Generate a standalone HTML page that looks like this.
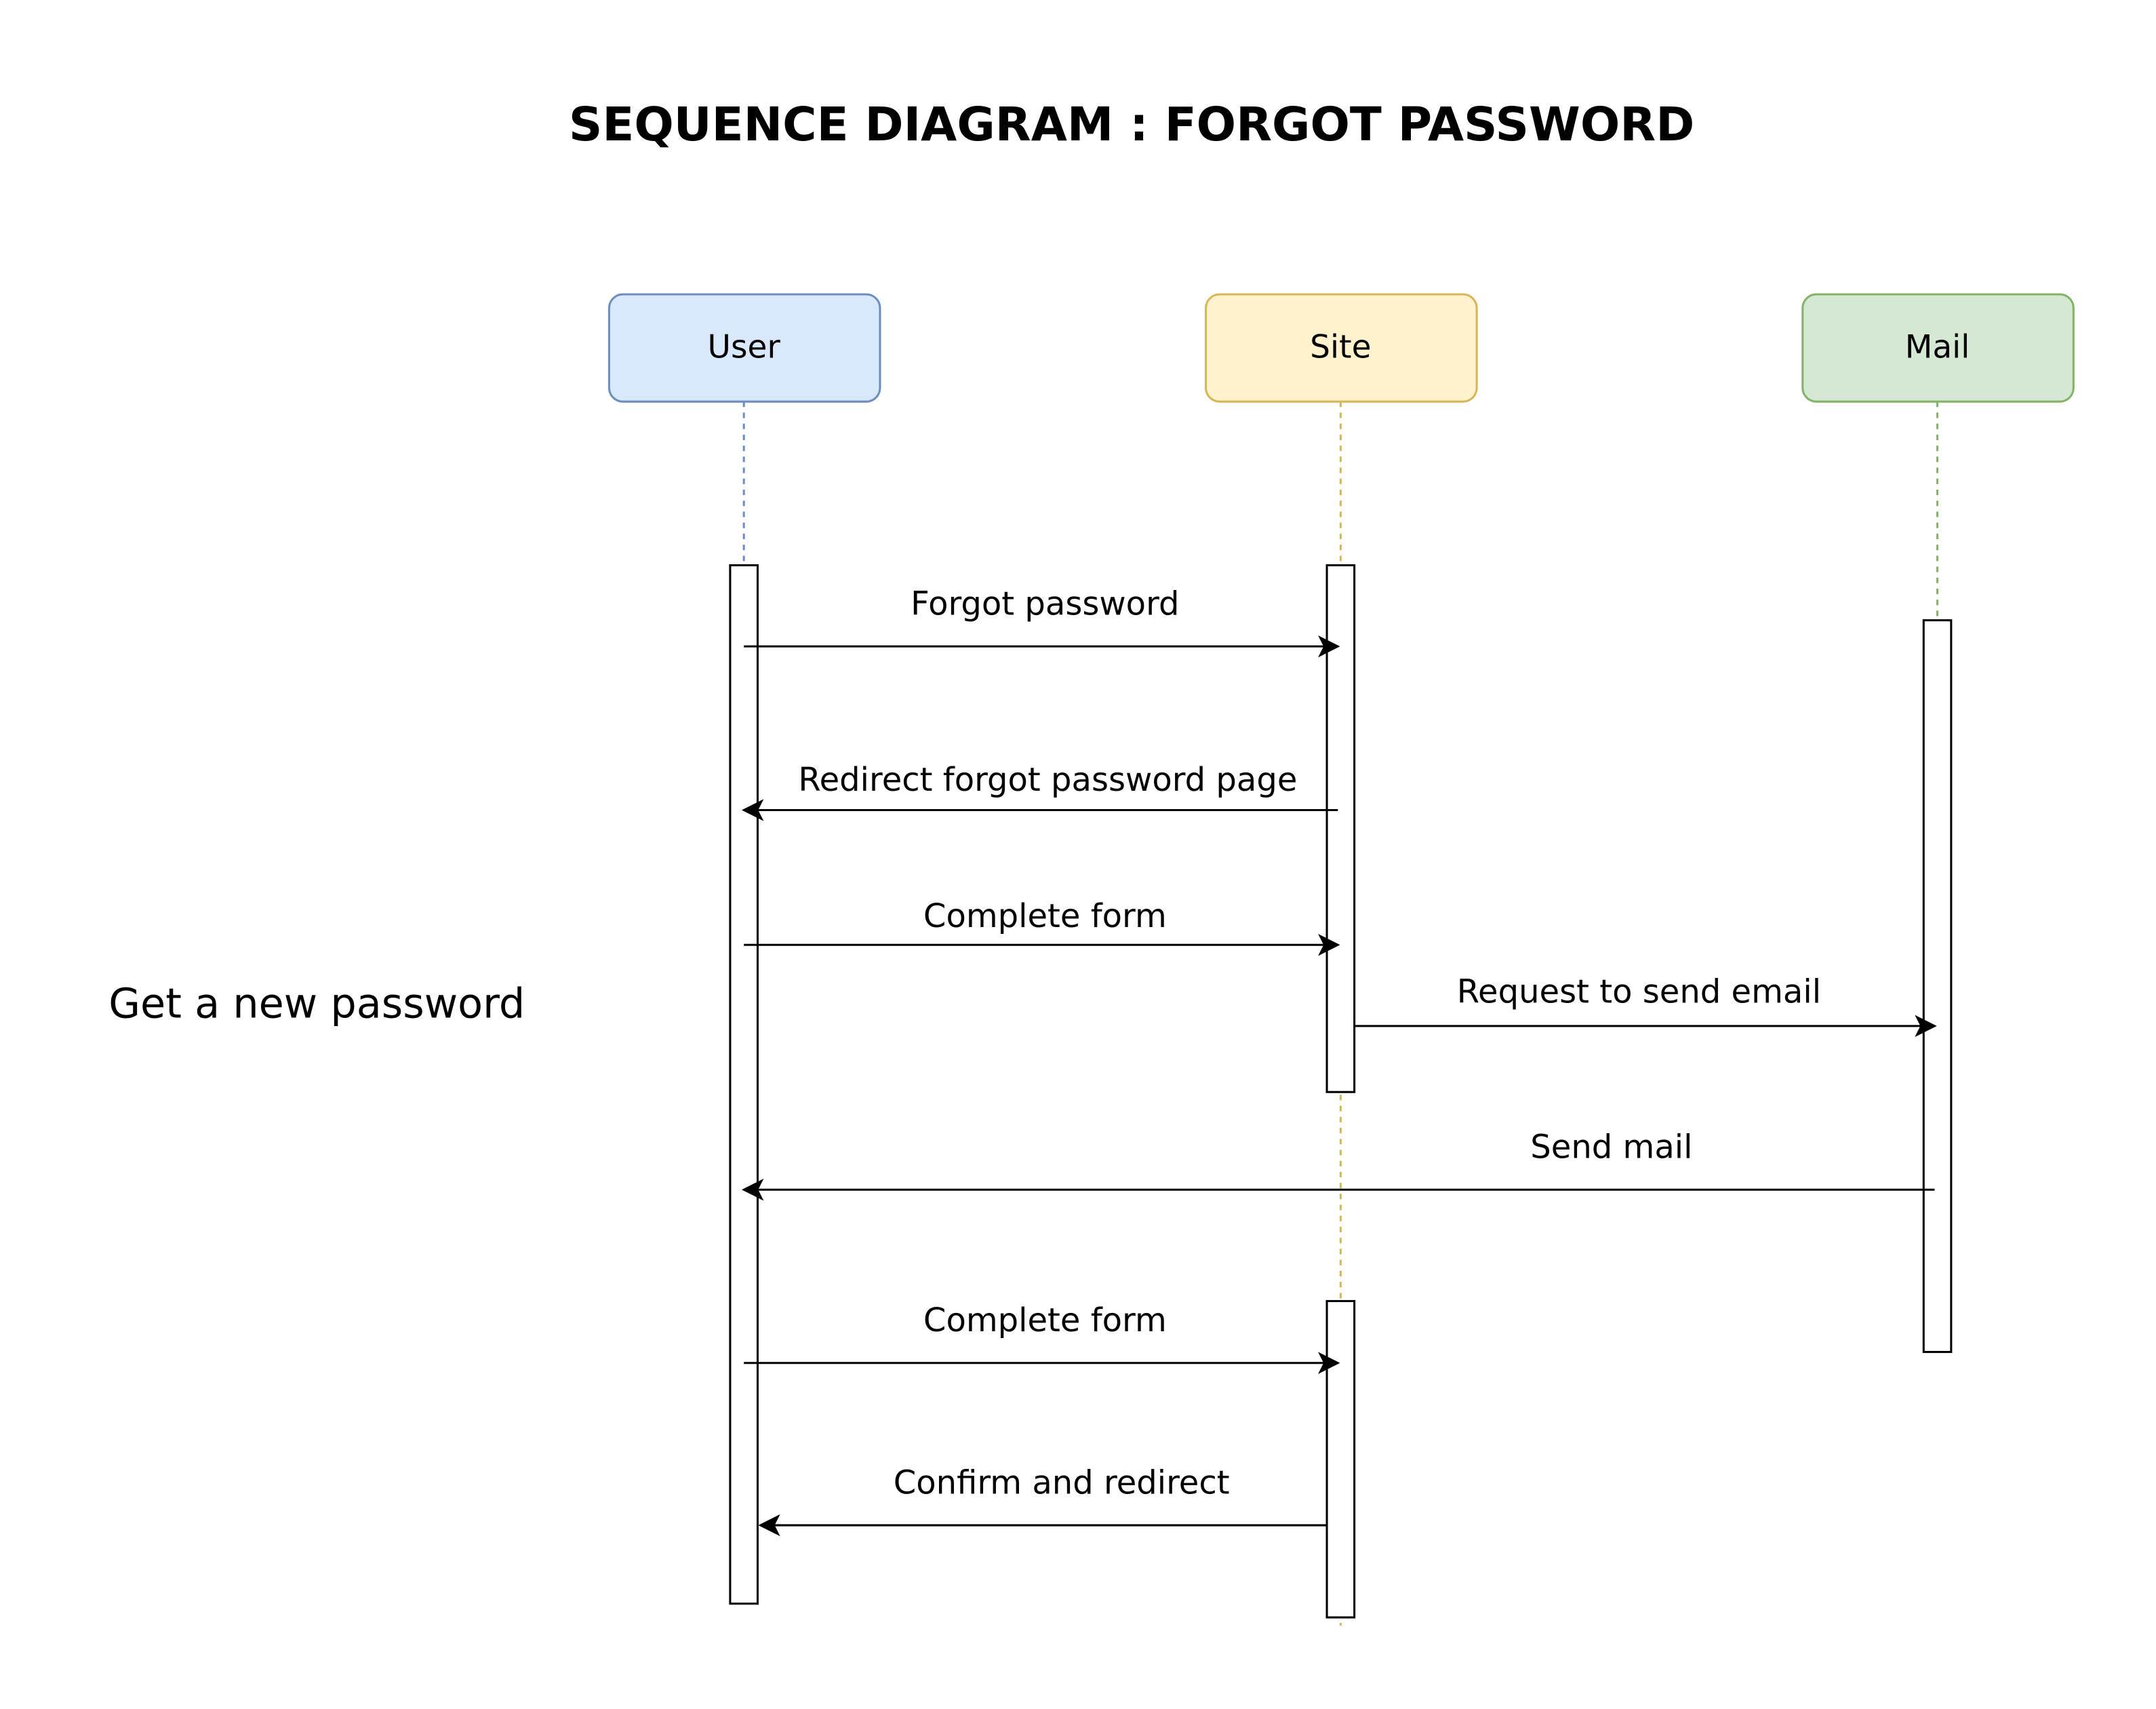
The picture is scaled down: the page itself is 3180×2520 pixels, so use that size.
<!DOCTYPE html>
<html><head><meta charset="utf-8"><style>
html,body{margin:0;padding:0;background:#fff;}
svg{display:block;}
text{font-family:"DejaVu Sans","Liberation Sans",sans-serif;}
</style></head><body>
<svg width="3180" height="2520" viewBox="0 0 1568 1242.6" preserveAspectRatio="none" xmlns="http://www.w3.org/2000/svg">
<defs>
<marker id="a" viewBox="0 0 10 10" refX="9" refY="5" markerWidth="16" markerHeight="16" markerUnits="userSpaceOnUse" orient="auto">
<path d="M0,0 L10,5 L0,10 L2.5,5 Z" fill="#000"/>
</marker>
</defs>
<rect width="1568" height="1242.6" fill="#fff"/>
<text x="823" y="102" font-size="33.9" font-weight="bold" text-anchor="middle">SEQUENCE DIAGRAM : FORGOT PASSWORD</text>

<g stroke-dasharray="4,4" stroke-width="1.5" fill="none">
<line x1="541" y1="292" x2="541" y2="411" stroke="#6c8ebf"/>
<line x1="975" y1="292" x2="975" y2="1182" stroke="#d6b656"/>
<line x1="1409" y1="292" x2="1409" y2="983" stroke="#82b366"/>
</g>

<rect x="443" y="214" width="197" height="78" rx="10" fill="#dae8fc" stroke="#6c8ebf" stroke-width="1.5"/>
<rect x="877" y="214" width="197" height="78" rx="10" fill="#fff2cc" stroke="#d6b656" stroke-width="1.5"/>
<rect x="1311" y="214" width="197" height="78" rx="10" fill="#d5e8d4" stroke="#82b366" stroke-width="1.5"/>
<g font-size="23.2" text-anchor="middle">
<text x="541" y="260">User</text>
<text x="975" y="260">Site</text>
<text x="1409" y="260">Mail</text>
</g>

<g fill="#fff" stroke="#000" stroke-width="1.5">
<rect x="531" y="411" width="20" height="755"/>
<rect x="965" y="411" width="20" height="383"/>
<rect x="965" y="946" width="20" height="230"/>
<rect x="1399" y="451" width="20" height="532"/>
</g>

<g stroke="#000" stroke-width="1.5" fill="none" marker-end="url(#a)">
<line x1="541" y1="470" x2="973" y2="470"/>
<line x1="973" y1="589" x2="541" y2="589"/>
<line x1="541" y1="687" x2="973" y2="687"/>
<line x1="985" y1="746" x2="1407" y2="746"/>
<line x1="1407" y1="865" x2="541" y2="865"/>
<line x1="541" y1="991" x2="973" y2="991"/>
<line x1="965" y1="1109" x2="553" y2="1109"/>
</g>

<g font-size="23.7" text-anchor="middle">
<text x="760" y="447">Forgot password</text>
<text x="762" y="575">Redirect forgot password page</text>
<text x="760" y="674">Complete form</text>
<text x="1192" y="729">Request to send email</text>
<text x="1172" y="842">Send mail</text>
<text x="760" y="968">Complete form</text>
<text x="772" y="1086">Confirm and redirect</text>
</g>
<text x="79" y="740" font-size="29.8">Get a new password</text>
</svg>
</body></html>
